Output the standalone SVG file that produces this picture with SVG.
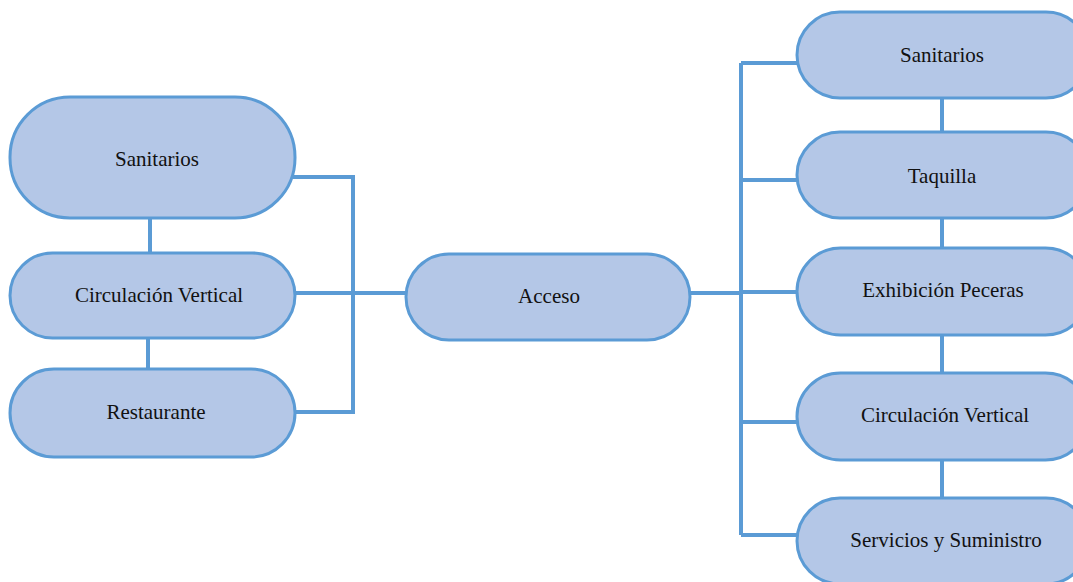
<svg xmlns="http://www.w3.org/2000/svg" width="1073" height="582" viewBox="0 0 1073 582">
<style>
.node rect{fill:#b4c7e7;stroke:#5b9bd5;stroke-width:3}
.node text{font-family:"Liberation Serif","Times New Roman",serif;font-size:21px;fill:#111;text-anchor:middle}
.conn{fill:none;stroke:#5b9bd5;stroke-width:4;stroke-linecap:butt;stroke-linejoin:miter}
</style>
<rect width="1073" height="582" fill="#ffffff"/>
<g id="connectors">
<path class="conn" d="M150 218V253M148 338V369"/>
<path class="conn" d="M293 177H353V412H293M293 293H406"/>
<path class="conn" d="M690 293H741M741 63V535M741 63H799M741 180H799M741 292H799M741 422H799M741 535H799"/>
<path class="conn" d="M942 98V132M942 218V248M942 335V373M942 460V498"/>
</g>
<g id="left-sanitarios" class="node"><rect x="10" y="97" width="285" height="121" rx="60"/><text x="157" y="166">Sanitarios</text></g>
<g id="left-circulacion" class="node"><rect x="10" y="253" width="285" height="85" rx="42.5"/><text x="159" y="302">Circulación Vertical</text></g>
<g id="left-restaurante" class="node"><rect x="10" y="369" width="285" height="88" rx="44"/><text x="156" y="419">Restaurante</text></g>
<g id="acceso" class="node"><rect x="406" y="254" width="284" height="86" rx="43"/><text x="549" y="303">Acceso</text></g>
<g id="right-sanitarios" class="node"><rect x="797" y="12" width="292" height="86" rx="43"/><text x="942" y="62">Sanitarios</text></g>
<g id="right-taquilla" class="node"><rect x="797" y="132" width="292" height="86" rx="43"/><text x="942" y="183">Taquilla</text></g>
<g id="right-exhibicion" class="node"><rect x="797" y="248" width="292" height="87" rx="43.5"/><text x="943" y="297">Exhibición Peceras</text></g>
<g id="right-circulacion" class="node"><rect x="797" y="373" width="292" height="87" rx="43.5"/><text x="945" y="422">Circulación Vertical</text></g>
<g id="right-servicios" class="node"><rect x="797" y="498" width="292" height="86" rx="43"/><text x="946" y="547">Servicios y Suministro</text></g>
</svg>
